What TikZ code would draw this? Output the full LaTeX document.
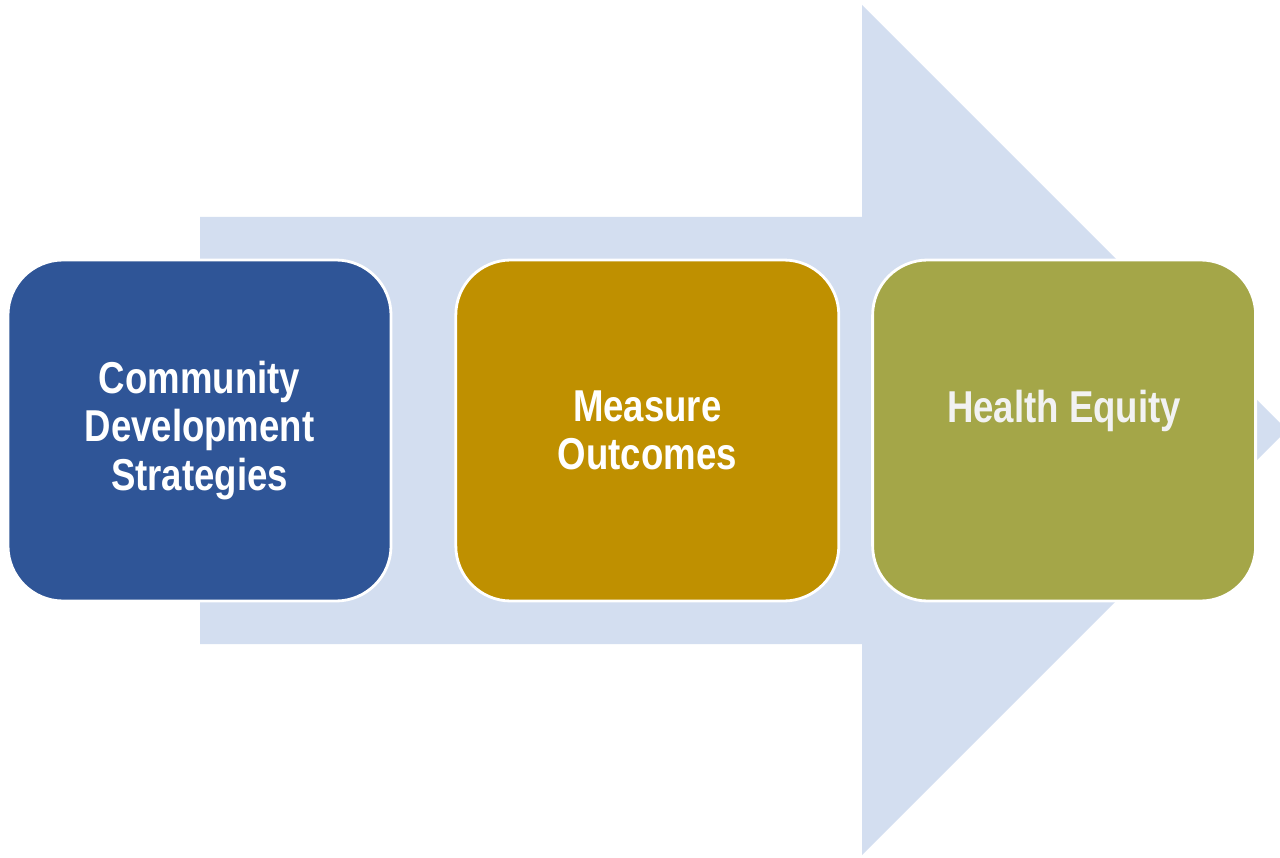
\documentclass[tikz,border=0pt]{standalone}
\usepackage{fontspec}
\setmainfont{Liberation Sans}[FakeStretch=0.82]
\usetikzlibrary{positioning}

\definecolor{arrowfill}{RGB}{211,222,240}
\definecolor{stratblue}{RGB}{47,85,151}
\definecolor{measgold}{RGB}{191,144,0}
\definecolor{equityolive}{RGB}{164,166,72}
\definecolor{lightgray}{RGB}{242,242,242}

\tikzset{
  stagebox/.style={draw=white, line width=0.8pt, rounded corners=0.55cm,
    minimum width=3.83cm, minimum height=3.41cm, align=center,
    text=white, font=\fontsize{12.7}{13.7}\selectfont\bfseries}
}

\begin{document}
\begin{tikzpicture}
  \useasboundingbox (0,0) rectangle (12.8,8.57);
  \clip (0,0) rectangle (12.8,8.57);

  % Big arrow
  \fill[arrowfill] (2.00,6.40) -- (8.62,6.40) -- (8.62,8.52) -- (12.87,4.27)
    -- (8.62,0.02) -- (8.62,2.13) -- (2.00,2.13) -- cycle;

  % Stages
  \node[stagebox, fill=stratblue] (strategies) at (1.995,4.265)
    {Community\\Development\\Strategies};
  \node[stagebox, fill=measgold, right=0.62cm of strategies] (measure)
    {Measure\\Outcomes};
  \node[stagebox, fill=equityolive, text=lightgray, right=0.31cm of measure] (equity)
    {Health Equity~\\\phantom{O}};
\end{tikzpicture}
\end{document}
